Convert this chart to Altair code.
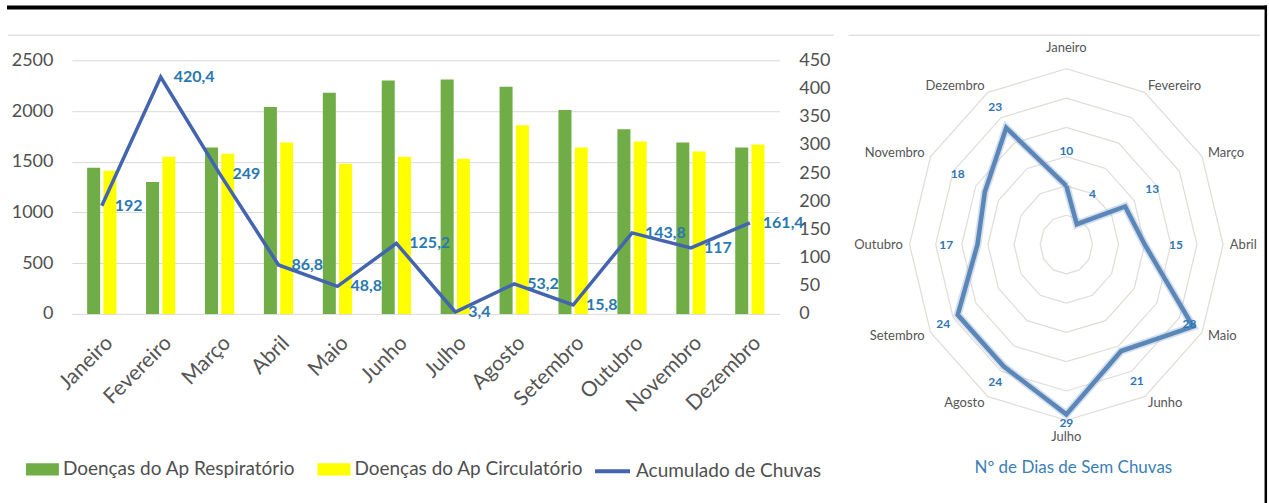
import altair as alt
import pandas as pd

# ---------------- data ----------------
months = ["Janeiro", "Fevereiro", "Março", "Abril", "Maio", "Junho",
          "Julho", "Agosto", "Setembro", "Outubro", "Novembro", "Dezembro"]
resp = [1440, 1300, 1640, 2040, 2180, 2300, 2310, 2240, 2010, 1820, 1690, 1640]
circ = [1410, 1550, 1580, 1690, 1480, 1550, 1530, 1860, 1640, 1700, 1600, 1670]
chuva = [192, 420.4, 249, 86.8, 48.8, 125.2, 3.4, 53.2, 15.8, 143.8, 117, 161.4]
dias = [10, 4, 13, 15, 28, 21, 29, 24, 24, 17, 18, 23]
left_ticks = [0, 500, 1000, 1500, 2000, 2500]
right_ticks = [0, 50, 100, 150, 200, 250, 300, 350, 400, 450]
ring_values = [5, 10, 15, 20, 25, 30]
serie_resp = "Doenças do Ap Respiratório"
serie_circ = "Doenças do Ap Circulatório"
serie_chuva = "Acumulado de Chuvas"
radar_title = "Nº de Dias de Sem Chuvas"

# ---------------- tables ----------------
bars_df = pd.DataFrame(
    [{"mes": m, "serie": serie_resp, "valor": v} for m, v in zip(months, resp)]
    + [{"mes": m, "serie": serie_circ, "valor": v} for m, v in zip(months, circ)]
)
chuva_df = pd.DataFrame({
    "mes": months,
    "chuva": chuva,
    "serie": serie_chuva,
    "rotulo": [f"{v:g}".replace(".", ",") for v in chuva],
})
n = len(months)
radar_df = pd.DataFrame({"k": list(range(n + 1)),
                         "mes": months + [months[0]],
                         "dias": dias + [dias[0]]})
labels_df = pd.DataFrame({"k": list(range(n)), "mes": months, "dias": dias})
rings_df = pd.DataFrame([{"r": r, "k": k} for r in ring_values for k in range(n + 1)])
dummy = pd.DataFrame({"z": [0]})

# ---------------- layout constants ----------------
LW, LH = 709, 254
FONT = "Lato"
GREY_TXT = "#4f4f4f"
KH, KV = 157 / 30, 176 / 30          # px per unit (radar)
RW, RH = 380, 369
DX, DY = RW / 2 / KH, RH / 2 / KV
SPACING = 97
R_ORIGIN = LW + SPACING              # radar plot x relative to left plot x

# ---------------- left chart ----------------
xenc = alt.X("mes:N", sort=months,
             scale=alt.Scale(paddingInner=0.503, paddingOuter=0.259),
             axis=alt.Axis(title=None, labelAngle=-45, labelFontSize=21,
                           labelColor="#555555", ticks=False, domain=False,
                           grid=False, labelPadding=18, labelFont=FONT))

bars = alt.Chart(bars_df).mark_bar().encode(
    x=xenc,
    xOffset=alt.XOffset("serie:N", sort=[serie_resp, serie_circ],
                        scale=alt.Scale(paddingInner=0.2, paddingOuter=0)),
    y=alt.Y("valor:Q", scale=alt.Scale(domain=[0, 2500], nice=False),
            axis=alt.Axis(title=None, values=left_ticks, format="d", grid=True,
                          gridColor="#D9D9D9", gridWidth=1, domain=False,
                          ticks=False, labelPadding=19, labelFontSize=18,
                          labelColor=GREY_TXT, labelFont=FONT,
                          minExtent=72, maxExtent=72)),
    color=alt.Color("serie:N", sort=[serie_resp, serie_circ],
                    scale=alt.Scale(domain=[serie_resp, serie_circ],
                                    range=["#70AD47", "#FFFF00"]),
                    legend=alt.Legend(title=None, orient="none", legendX=-46,
                                      legendY=393, direction="horizontal",
                                      symbolType="M-1,-0.37H1V0.37H-1Z",
                                      symbolSize=1089, symbolStrokeWidth=0,
                                      labelFontSize=19, labelColor=GREY_TXT,
                                      labelFont=FONT, labelOffset=4,
                                      labelLimit=500, columnPadding=22)),
)

line = alt.Chart(chuva_df).mark_line(strokeWidth=3.5).encode(
    x=alt.X("mes:N", sort=months),
    y=alt.Y("chuva:Q", scale=alt.Scale(domain=[0, 450], nice=False),
            axis=alt.Axis(title=None, orient="right", values=right_ticks,
                          grid=False, domain=False, ticks=False,
                          labelPadding=19, labelFontSize=18,
                          labelColor=GREY_TXT, labelFont=FONT)),
    stroke=alt.Stroke("serie:N", scale=alt.Scale(domain=[serie_chuva],
                                                 range=["#4364AE"]),
                      legend=alt.Legend(title=None, orient="none",
                                        legendX=522, legendY=392,
                                        symbolType="stroke", symbolSize=1225,
                                        symbolStrokeWidth=4, labelFontSize=19,
                                        labelColor=GREY_TXT, labelFont=FONT,
                                        labelOffset=4, labelLimit=500)),
)

line_labels = alt.Chart(chuva_df).mark_text(
    align="left", baseline="middle", dx=13, fontSize=16, fontWeight="bold",
    color="#2A78B0", font=FONT
).encode(
    x=alt.X("mes:N", sort=months),
    y=alt.Y("chuva:Q", scale=alt.Scale(domain=[0, 450], nice=False), axis=None),
    text="rotulo:N",
)

top_black = alt.Chart(dummy).mark_rule(color="black", strokeWidth=4).encode(
    x=alt.value(-65), x2=alt.value(1269 - 72), y=alt.value(-53))
right_black = alt.Chart(dummy).mark_rule(color="black", strokeWidth=2.5).encode(
    x=alt.value(1267.8 - 72), y=alt.value(-55), y2=alt.value(503 - 58))
top_grey_left = alt.Chart(dummy).mark_rule(color="#E2E2E2", strokeWidth=1.5).encode(
    x=alt.value(-64), x2=alt.value(835 - 72), y=alt.value(-25))

left = alt.layer(bars, line, line_labels, top_black, right_black,
                 top_grey_left).resolve_scale(y="independent").properties(
    width=LW, height=LH)

# ---------------- radar chart ----------------
xs = alt.Scale(domain=[-DX, DX], nice=False, zero=False)
ys = alt.Scale(domain=[-DY, DY], nice=False, zero=False)

rings = alt.Chart(rings_df).transform_calculate(
    px="datum.r*sin(datum.k*PI/6)", py="datum.r*cos(datum.k*PI/6)"
).mark_line(color="#E0DCD8", strokeWidth=1.2).encode(
    x=alt.X("px:Q", scale=xs, axis=None),
    y=alt.Y("py:Q", scale=ys, axis=None),
    detail="r:N", order="k:Q")

poly_base = alt.Chart(radar_df).transform_calculate(
    px="datum.dias*sin(datum.k*PI/6)", py="datum.dias*cos(datum.k*PI/6)")
shadow = poly_base.mark_line(color="#9FB8D6", strokeWidth=8, opacity=0.45).encode(
    x=alt.X("px:Q", scale=xs, axis=None), y=alt.Y("py:Q", scale=ys, axis=None),
    order="k:Q")
poly = poly_base.mark_line(color="#5B87B8", strokeWidth=4.5).encode(
    x=alt.X("px:Q", scale=xs, axis=None), y=alt.Y("py:Q", scale=ys, axis=None),
    order="k:Q")

mlab = alt.Chart(labels_df).transform_calculate(
    s="sin(datum.k*PI/6)", c="cos(datum.k*PI/6)"
).transform_calculate(
    rr="datum.c > 0.9 ? 32.3 : (datum.c < -0.9 ? 31.8 : 31.3)"
).transform_calculate(lx="datum.rr*datum.s", ly="datum.rr*datum.c")


def month_layer(flt, align, baseline):
    return mlab.transform_filter(flt).mark_text(
        align=align, baseline=baseline, fontSize=13, color="#555555", font=FONT
    ).encode(x=alt.X("lx:Q", scale=xs, axis=None),
             y=alt.Y("ly:Q", scale=ys, axis=None), text="mes:N")


m_right = month_layer("datum.s > 0.1", "left", "middle")
m_left = month_layer("datum.s < -0.1", "right", "middle")
m_top = month_layer("abs(datum.s) <= 0.1 && datum.c > 0", "center", "bottom")
m_bot = month_layer("abs(datum.s) <= 0.1 && datum.c < 0", "center", "top")

vlab = alt.Chart(labels_df).transform_calculate(
    rl="datum.dias >= 29 ? datum.dias + 1.4 : min(datum.dias + 6, 27.2)"
).transform_calculate(
    vx="datum.rl*sin(datum.k*PI/6)", vy="datum.rl*cos(datum.k*PI/6)"
).mark_text(fontSize=12, fontWeight="bold", color="#2E75B6", font=FONT).encode(
    x=alt.X("vx:Q", scale=xs, axis=None), y=alt.Y("vy:Q", scale=ys, axis=None),
    text="dias:Q")

top_grey_right = alt.Chart(dummy).mark_rule(color="#E2E2E2", strokeWidth=1.5).encode(
    x=alt.value(850 - 72 - R_ORIGIN), x2=alt.value(1262 - 72 - R_ORIGIN),
    y=alt.value(-25))

radar = alt.layer(rings, shadow, poly, m_right, m_left, m_top, m_bot, vlab,
                  top_grey_right).properties(
    width=RW, height=RH,
    title=alt.TitleParams(radar_title, orient="bottom", fontSize=17,
                          color="#3B7FB6", font=FONT, fontWeight="normal",
                          offset=16, dx=7))

chart = alt.hconcat(left, radar, spacing=SPACING, bounds="flush").properties(
    padding={"left": 0, "top": 3, "right": 0, "bottom": 0},
    background="white",
).configure_view(stroke=None).configure_text(font=FONT)

chart.save("out.html", embed_options={"renderer": "svg", "actions": False})
